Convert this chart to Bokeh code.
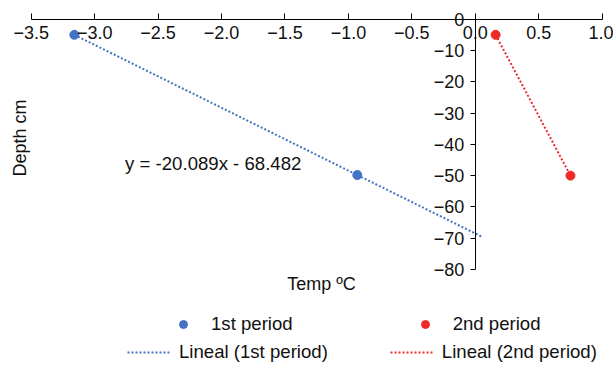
import math
from bokeh.plotting import figure
from bokeh.models import (Range1d, LinearAxis, FixedTicker, Legend, LegendItem, Label)
from bokeh.core.properties import value
from bokeh.embed import file_html
from bokeh.resources import INLINE

# ---- data ----
p1_temp = [-3.16, -0.93]
p1_depth = [-5.0, -49.8]
p2_temp = [0.16, 0.75]
p2_depth = [-5.0, -50.0]
p1_slope = -20.089
p1_intercept = -68.482
p1_trend_x = [-3.16, 0.06]
eq_text = "y = -20.089x - 68.482"
series_names = ["1st period", "2nd period"]
trend_names = ["Lineal (1st period)", "Lineal (2nd period)"]
x_ticks = [-3.5, -3.0, -2.5, -2.0, -1.5, -1.0, -0.5, 0.0, 0.5, 1.0]
x_tick_labels = ["\u22123.5", "\u22123.0", "\u22122.5", "\u22122.0", "\u22121.5",
                 "\u22121.0", "\u22120.5", "0.0", "0.5", "1.0"]
y_ticks = [0, -10, -20, -30, -40, -50, -60, -70, -80]
y_tick_labels = ["0", "\u221210", "\u221220", "\u221230", "\u221240",
                 "\u221250", "\u221260", "\u221270", "\u221280"]
x_title = "Temp \u00baC"
y_title = "Depth cm"

FONT = "Liberation Sans"
BLUE = "#4472C4"
RED = "#EE2B2B"
TXT = "#111111"

# the frame covers the whole canvas; axes are bounded to the data extent
p = figure(width=613, height=366, x_range=Range1d(-3.742, 1.089), y_range=Range1d(-110.99, 5.976),
           output_backend="svg", toolbar_location=None,
           x_axis_location=None, y_axis_location=None,
           min_border_left=0, min_border_right=0, min_border_top=0, min_border_bottom=0)
p.grid.visible = False
p.outline_line_color = None
p.background_fill_color = "white"
p.border_fill_color = "white"

# x axis crossing at depth 0
xaxis = LinearAxis(ticker=FixedTicker(ticks=x_ticks), fixed_location=0, bounds=(-3.5, 1.0),
                   major_label_overrides={t: l for t, l in zip(x_ticks, x_tick_labels)},
                   major_tick_in=6, major_tick_out=0, minor_tick_in=0, minor_tick_out=0,
                   major_label_standoff=7,
                   major_label_text_font=FONT, major_label_text_font_size="18px",
                   major_label_text_color=TXT,
                   axis_line_color="black", major_tick_line_color="black")
p.add_layout(xaxis, "below")

# y axis crossing at temp 0
yaxis = LinearAxis(ticker=FixedTicker(ticks=y_ticks), fixed_location=0, bounds=(-80, 0),
                   major_label_overrides={t: l for t, l in zip(y_ticks, y_tick_labels)},
                   major_tick_in=0, major_tick_out=5, minor_tick_in=0, minor_tick_out=0,
                   major_label_standoff=6,
                   major_label_text_font=FONT, major_label_text_font_size="18px",
                   major_label_text_color=TXT,
                   axis_line_color="black", major_tick_line_color="black")
p.add_layout(yaxis, "left")

# data
trend_y = [p1_slope * x + p1_intercept for x in p1_trend_x]
t1 = p.line(p1_trend_x, trend_y, line_color=BLUE, line_width=2, line_dash="2 2")
t2 = p.line(p2_temp, p2_depth, line_color=RED, line_width=2, line_dash="2 2")
s1 = p.scatter(p1_temp, p1_depth, size=9, fill_color=BLUE, line_color=BLUE)
s2 = p.scatter(p2_temp, p2_depth, size=9, fill_color=RED, line_color=RED)

p.text(x=[-2.76], y=[-46.1], text=[eq_text], text_align="left", text_baseline="middle",
       text_font=value(FONT), text_font_size="18.6px", text_color=TXT)

# axis titles
p.add_layout(Label(x=-1.212, y=-84.47, text=x_title, text_align="center", text_baseline="middle",
                   text_font=FONT, text_font_size="18px", text_color=TXT))
p.add_layout(Label(x=-3.592, y=-38.0, text=y_title, angle=math.pi / 2,
                   text_align="center", text_baseline="middle",
                   text_font=FONT, text_font_size="18px", text_color=TXT))

common = dict(orientation="horizontal", padding=0, margin=0, border_line_color=None,
              background_fill_alpha=0, label_text_font=FONT, label_text_font_size="18.6px",
              label_text_color=TXT, glyph_height=20, label_height=20)
leg1 = Legend(items=[LegendItem(label=series_names[0], renderers=[s1]),
                     LegendItem(label=series_names[1], renderers=[s2])],
              location=(173, 31), glyph_width=20, label_standoff=18, spacing=122, **common)
leg2 = Legend(items=[LegendItem(label=trend_names[0], renderers=[t1]),
                     LegendItem(label=trend_names[1], renderers=[t2])],
              location=(127, 3), glyph_width=43, label_standoff=9, spacing=62, **common)
p.add_layout(leg1, "center")
p.add_layout(leg2, "center")

open("out.html", "w").write(file_html(p, INLINE))
